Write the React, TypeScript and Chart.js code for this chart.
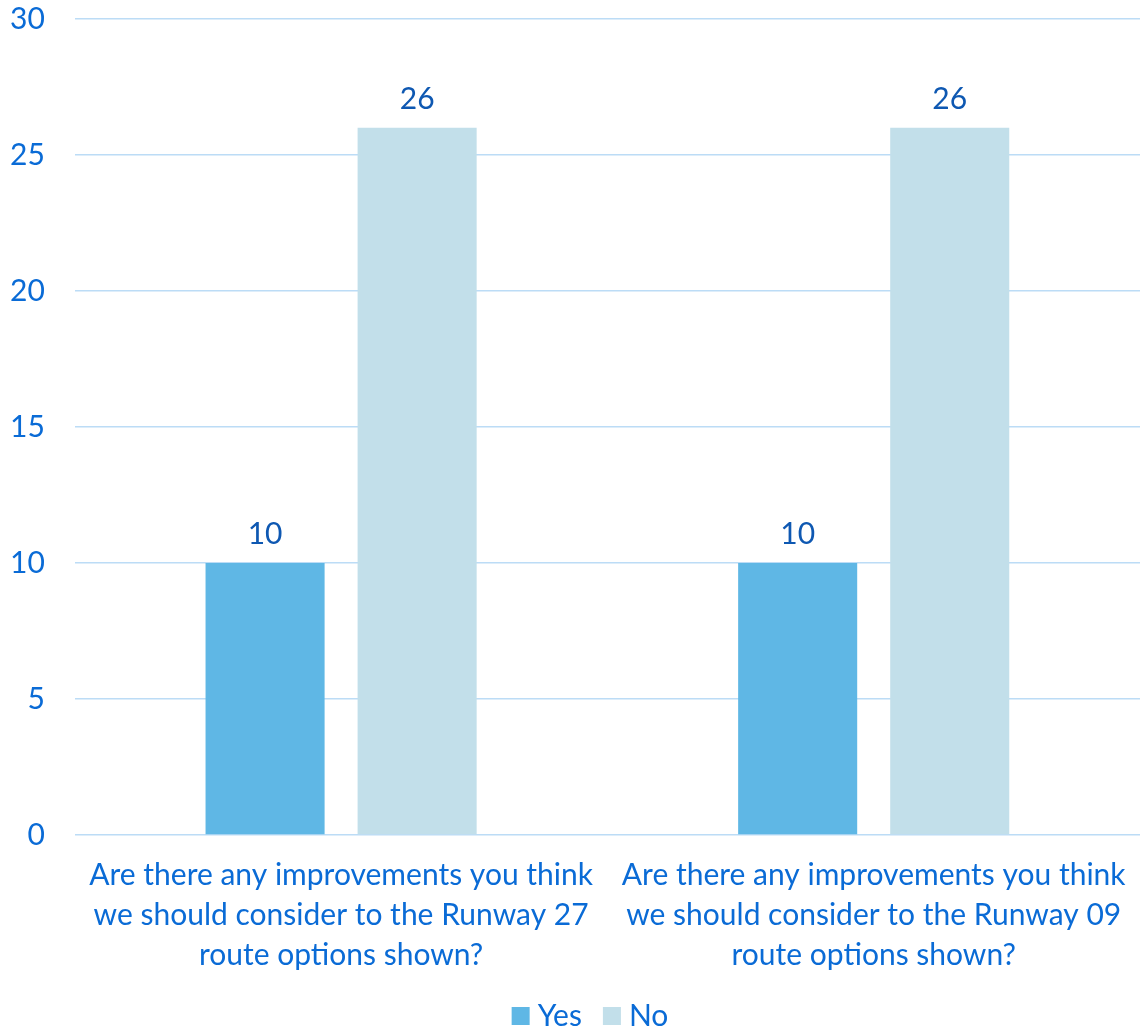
import React, { useEffect, useRef } from "react";
import { Chart, registerables } from "chart.js";

Chart.register(...registerables);

const categories: string[][] = [
  ["Are there any improvements you think", "we should consider to the Runway 27", "route options shown?"],
  ["Are there any improvements you think", "we should consider to the Runway 09", "route options shown?"],
];
const yesValues = [10, 10];
const noValues = [26, 26];
const seriesNames = ["Yes", "No"];

const FONT = "Lato, 'Open Sans', sans-serif";
const TICK_COLOR = "#0A6BD6";
const LABEL_COLOR = "#0E58B2";

const dataLabelPlugin = {
  id: "dataLabels",
  afterDatasetsDraw(chart: any) {
    const ctx = chart.ctx;
    ctx.save();
    ctx.font = `30px ${FONT}`;
    ctx.fillStyle = LABEL_COLOR;
    ctx.textAlign = "center";
    ctx.textBaseline = "alphabetic";
    chart.data.datasets.forEach((ds: any, i: number) => {
      const meta = chart.getDatasetMeta(i);
      meta.data.forEach((el: any, j: number) => {
        ctx.fillText(String(ds.data[j]), el.x, el.y - 19);
      });
    });
    ctx.restore();
  },
};

const legendPlugin = {
  id: "customLegend",
  afterDraw(chart: any) {
    const ctx = chart.ctx;
    const box = 18;
    const textGap = 8;
    const itemGap = 21;
    ctx.save();
    ctx.font = `30px ${FONT}`;
    ctx.textBaseline = "middle";
    ctx.textAlign = "left";
    const items = chart.data.datasets.map((ds: any) => ({
      label: ds.label,
      color: ds.backgroundColor,
      w: ctx.measureText(ds.label).width,
    }));
    const total =
      items.reduce((s: number, it: any) => s + box + textGap + it.w, 0) + itemGap * (items.length - 1);
    const cy = chart.height - 15;
    let x = chart.width / 2 + 20 - total / 2;
    items.forEach((it: any) => {
      ctx.fillStyle = it.color;
      ctx.fillRect(x, cy - box / 2, box, box);
      ctx.fillStyle = TICK_COLOR;
      ctx.fillText(it.label, x + box + textGap, cy);
      x += box + textGap + it.w + itemGap;
    });
    ctx.restore();
  },
};

export default function App() {
  const ref = useRef<HTMLCanvasElement | null>(null);
  useEffect(() => {
    if (!ref.current) return;
    const chart = new Chart(ref.current, {
      type: "bar",
      data: {
        labels: categories,
        datasets: [
          { label: seriesNames[0], data: yesValues, backgroundColor: "#5FB7E5" },
          { label: seriesNames[1], data: noValues, backgroundColor: "#C2DFEA" },
        ],
      },
      options: {
        animation: false,
        responsive: true,
        maintainAspectRatio: false,
        layout: { padding: { left: 10, top: 0, right: -5, bottom: 56 } },
        datasets: {
          bar: { categoryPercentage: 0.571, barPercentage: 0.783 },
        },
        plugins: {
          tooltip: { enabled: false },
          legend: { display: false },
        },
        scales: {
          x: {
            grid: { display: false, drawTicks: false },
            border: { display: false },
            ticks: {
              color: TICK_COLOR,
              font: { family: FONT, size: 30, lineHeight: 1.333 },
              padding: 20,
              maxRotation: 0,
              autoSkip: false,
            },
            afterFit(scale: any) {
              scale.paddingLeft = 0;
              scale.paddingRight = 0;
              scale.height = 140;
            },
          },
          y: {
            min: 0,
            max: 30,
            border: { display: false },
            grid: { color: "#BCDCF6", lineWidth: 1.5, drawTicks: false },
            ticks: {
              stepSize: 5,
              color: TICK_COLOR,
              font: { family: FONT, size: 30 },
              padding: 30,
            },
            afterFit(scale: any) {
              scale.paddingTop = 19;
              scale.paddingBottom = 0;
              scale.width -= 30;
            },
          },
        },
      },
      plugins: [dataLabelPlugin, legendPlugin],
    });
    return () => chart.destroy();
  }, []);
  return (
    <div style={{ position: "absolute", left: 0, top: 0, width: 1140, height: 1031 }}>
      <canvas ref={ref} />
    </div>
  );
}
